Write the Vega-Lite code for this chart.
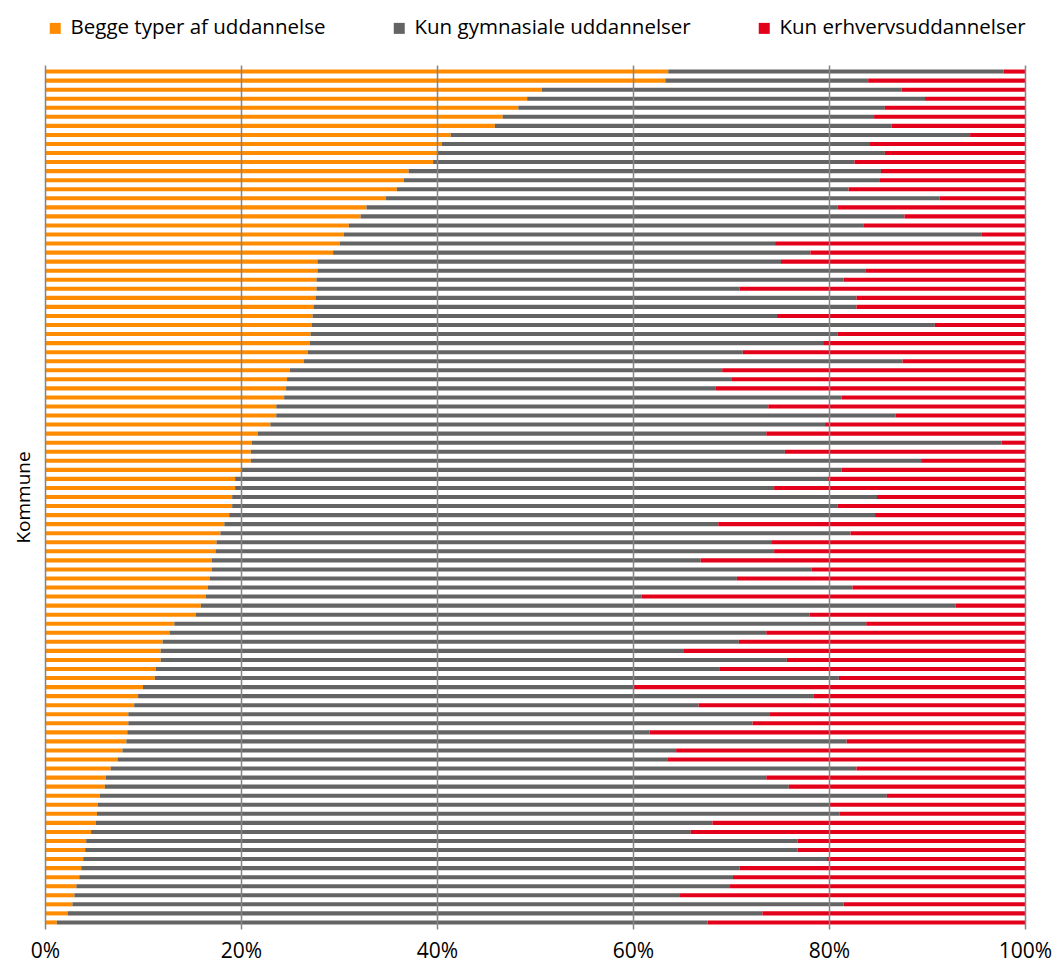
{
  "$schema": "https://vega.github.io/schema/vega-lite/v6.json",
  "width": 980,
  "height": 864,
  "autosize": "none",
  "padding": {"left": 45, "top": 65, "right": 31, "bottom": 36},
  "background": "white",
  "config": {"font": "Open Sans", "view": {"stroke": null}},
  "data": {"values": [
    {"k":1,"a":63.6,"b":34.2,"c":2.2},
    {"k":2,"a":63.3,"b":20.7,"c":16.0},
    {"k":3,"a":50.7,"b":36.7,"c":12.6},
    {"k":4,"a":49.2,"b":40.6,"c":10.2},
    {"k":5,"a":48.3,"b":37.4,"c":14.3},
    {"k":6,"a":46.7,"b":37.9,"c":15.4},
    {"k":7,"a":45.9,"b":40.5,"c":13.6},
    {"k":8,"a":41.4,"b":53.0,"c":5.6},
    {"k":9,"a":40.5,"b":43.6,"c":15.9},
    {"k":10,"a":40.0,"b":45.7,"c":14.3},
    {"k":11,"a":39.6,"b":43.0,"c":17.4},
    {"k":12,"a":37.1,"b":48.2,"c":14.7},
    {"k":13,"a":36.6,"b":48.6,"c":14.8},
    {"k":14,"a":35.9,"b":46.1,"c":18.0},
    {"k":15,"a":34.8,"b":56.5,"c":8.7},
    {"k":16,"a":32.8,"b":48.1,"c":19.1},
    {"k":17,"a":32.2,"b":55.5,"c":12.3},
    {"k":18,"a":31.0,"b":52.5,"c":16.5},
    {"k":19,"a":30.5,"b":65.1,"c":4.4},
    {"k":20,"a":30.1,"b":44.4,"c":25.5},
    {"k":21,"a":29.4,"b":48.7,"c":21.9},
    {"k":22,"a":27.8,"b":47.3,"c":24.9},
    {"k":23,"a":27.8,"b":55.9,"c":16.3},
    {"k":24,"a":27.7,"b":53.8,"c":18.5},
    {"k":25,"a":27.7,"b":43.2,"c":29.1},
    {"k":26,"a":27.6,"b":55.2,"c":17.2},
    {"k":27,"a":27.4,"b":55.4,"c":17.2},
    {"k":28,"a":27.3,"b":47.4,"c":25.3},
    {"k":29,"a":27.2,"b":63.6,"c":9.2},
    {"k":30,"a":27.1,"b":53.8,"c":19.1},
    {"k":31,"a":27.0,"b":52.4,"c":20.6},
    {"k":32,"a":26.8,"b":44.4,"c":28.8},
    {"k":33,"a":26.4,"b":61.1,"c":12.5},
    {"k":34,"a":25.0,"b":44.1,"c":30.9},
    {"k":35,"a":24.7,"b":45.4,"c":29.9},
    {"k":36,"a":24.6,"b":43.8,"c":31.6},
    {"k":37,"a":24.4,"b":56.9,"c":18.7},
    {"k":38,"a":23.6,"b":50.2,"c":26.2},
    {"k":39,"a":23.6,"b":63.2,"c":13.2},
    {"k":40,"a":23.0,"b":56.6,"c":20.4},
    {"k":41,"a":21.7,"b":51.9,"c":26.4},
    {"k":42,"a":21.1,"b":76.5,"c":2.4},
    {"k":43,"a":21.0,"b":54.5,"c":24.5},
    {"k":44,"a":21.0,"b":68.4,"c":10.6},
    {"k":45,"a":20.1,"b":61.2,"c":18.7},
    {"k":46,"a":19.4,"b":60.5,"c":20.1},
    {"k":47,"a":19.4,"b":55.0,"c":25.6},
    {"k":48,"a":19.1,"b":65.8,"c":15.1},
    {"k":49,"a":19.1,"b":61.8,"c":19.1},
    {"k":50,"a":18.8,"b":65.9,"c":15.3},
    {"k":51,"a":18.3,"b":50.4,"c":31.3},
    {"k":52,"a":17.9,"b":64.3,"c":17.8},
    {"k":53,"a":17.5,"b":56.6,"c":25.9},
    {"k":54,"a":17.4,"b":57.0,"c":25.6},
    {"k":55,"a":17.0,"b":49.9,"c":33.1},
    {"k":56,"a":17.0,"b":61.2,"c":21.8},
    {"k":57,"a":16.8,"b":53.8,"c":29.4},
    {"k":58,"a":16.6,"b":65.8,"c":17.6},
    {"k":59,"a":16.4,"b":44.5,"c":39.1},
    {"k":60,"a":15.9,"b":77.0,"c":7.1},
    {"k":61,"a":15.4,"b":62.6,"c":22.0},
    {"k":62,"a":13.2,"b":70.6,"c":16.2},
    {"k":63,"a":12.7,"b":60.9,"c":26.4},
    {"k":64,"a":12.0,"b":58.8,"c":29.2},
    {"k":65,"a":11.8,"b":53.4,"c":34.8},
    {"k":66,"a":11.8,"b":63.9,"c":24.3},
    {"k":67,"a":11.3,"b":57.5,"c":31.2},
    {"k":68,"a":11.2,"b":69.8,"c":19.0},
    {"k":69,"a":10.0,"b":50.1,"c":39.9},
    {"k":70,"a":9.5,"b":68.9,"c":21.6},
    {"k":71,"a":9.1,"b":57.6,"c":33.3},
    {"k":72,"a":8.5,"b":65.4,"c":26.1},
    {"k":73,"a":8.5,"b":63.7,"c":27.8},
    {"k":74,"a":8.4,"b":53.3,"c":38.3},
    {"k":75,"a":8.3,"b":73.5,"c":18.2},
    {"k":76,"a":7.9,"b":56.5,"c":35.6},
    {"k":77,"a":7.4,"b":56.1,"c":36.5},
    {"k":78,"a":6.7,"b":76.1,"c":17.2},
    {"k":79,"a":6.2,"b":67.4,"c":26.4},
    {"k":80,"a":6.1,"b":69.8,"c":24.1},
    {"k":81,"a":5.6,"b":80.3,"c":14.1},
    {"k":82,"a":5.4,"b":74.6,"c":20.0},
    {"k":83,"a":5.3,"b":75.8,"c":18.9},
    {"k":84,"a":5.2,"b":62.9,"c":31.9},
    {"k":85,"a":4.7,"b":61.2,"c":34.1},
    {"k":86,"a":4.2,"b":72.6,"c":23.2},
    {"k":87,"a":4.1,"b":72.7,"c":23.2},
    {"k":88,"a":3.9,"b":75.9,"c":20.2},
    {"k":89,"a":3.7,"b":67.2,"c":29.1},
    {"k":90,"a":3.5,"b":66.7,"c":29.8},
    {"k":91,"a":3.2,"b":66.7,"c":30.1},
    {"k":92,"a":3.0,"b":61.8,"c":35.2},
    {"k":93,"a":2.8,"b":78.7,"c":18.5},
    {"k":94,"a":2.3,"b":70.9,"c":26.8},
    {"k":95,"a":1.2,"b":66.4,"c":32.4}
  ]},
  "transform": [{"fold": ["a", "b", "c"], "as": ["type", "share"]}],
  "mark": {"type": "bar"},
  "encoding": {
    "y": {
      "field": "k",
      "type": "ordinal",
      "scale": {"paddingInner": 0.55, "paddingOuter": 0.5},
      "axis": {
        "title": "Kommune",
        "labels": false,
        "ticks": false,
        "domain": false,
        "titleFontSize": 19,
        "titleFontWeight": "normal",
        "titleColor": "#000000",
        "titlePadding": 12
      }
    },
    "x": {
      "field": "share",
      "type": "quantitative",
      "stack": "normalize",
      "scale": {"domain": [0, 1], "nice": false},
      "axis": {
        "format": ".0%",
        "values": [0, 0.2, 0.4, 0.6, 0.8, 1],
        "title": null,
        "grid": true,
        "gridColor": "#858585",
        "gridWidth": 1.5,
        "domain": false,
        "ticks": false,
        "labelFontSize": 21,
        "labelColor": "#000000",
        "labelPadding": 11,
        "labelFlush": false,
        "zindex": 1
      }
    },
    "color": {
      "field": "type",
      "type": "nominal",
      "scale": {"domain": ["a", "b", "c"], "range": ["#FF8C00", "#646464", "#E3001B"]},
      "legend": {
        "orient": "none",
        "legendX": 0,
        "legendY": -47,
        "direction": "horizontal",
        "title": null,
        "symbolType": "square",
        "symbolSize": 121,
        "symbolStrokeWidth": 0,
        "labelFontSize": 20.5,
        "labelColor": "#000000",
        "labelOffset": 5,
        "labelLimit": 400,
        "columnPadding": 63,
        "labelExpr": "datum.label == 'a' ? 'Begge typer af uddannelse' : datum.label == 'b' ? 'Kun gymnasiale uddannelser' : 'Kun erhvervsuddannelser'"
      }
    },
    "order": {"field": "type", "sort": "ascending"}
  }
}
